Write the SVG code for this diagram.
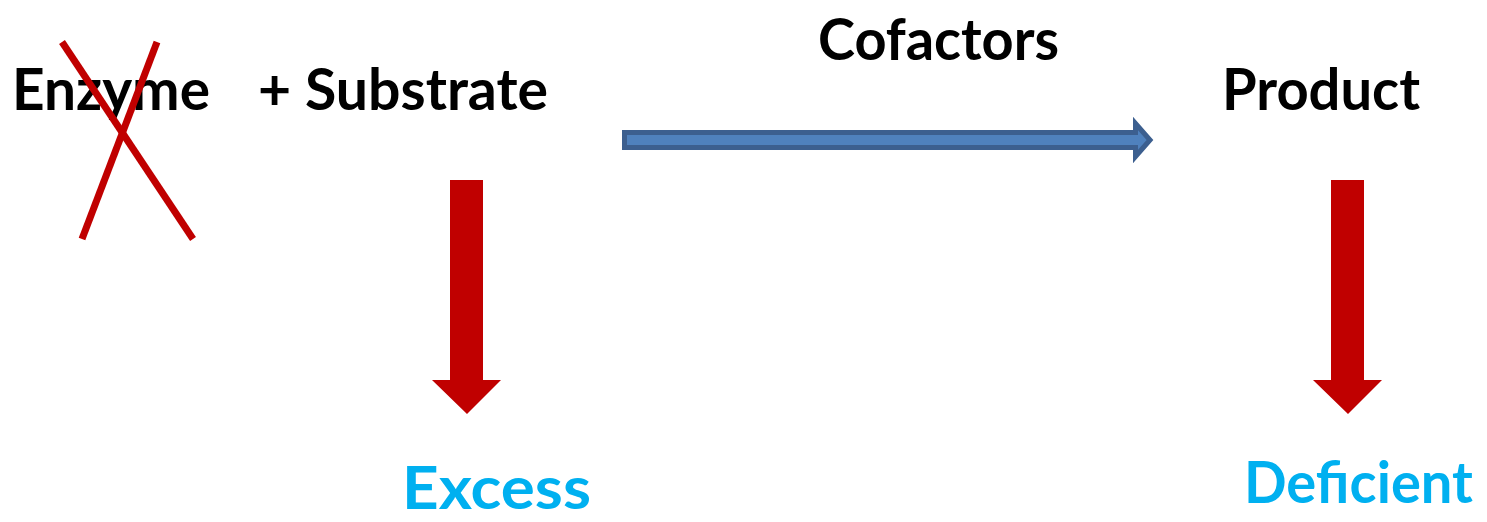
<svg xmlns="http://www.w3.org/2000/svg" width="1487" height="522" viewBox="0 0 1487 522">
<style>
.lbl{font-family:Lato,"Open Sans","Liberation Sans",sans-serif;font-weight:bold;fill:#000}
.blue{fill:#00B0F0}
.cross{stroke:#C00000;stroke-width:7;fill:none}
.red{fill:#C00000}
.flow{fill:#4F81BD;stroke:#3C5F8F;stroke-width:5;stroke-linejoin:miter}
</style>
<rect width="1487" height="522" fill="#fff"/>
<g id="enzyme">
<text class="lbl" x="12" y="110" font-size="57" textLength="198" lengthAdjust="spacingAndGlyphs">Enzyme</text>
<line class="cross" x1="62" y1="42" x2="193" y2="239"/>
<line class="cross" x1="157" y1="42" x2="82" y2="239"/>
</g>
<g id="substrate">
<text class="lbl" x="258" y="110" font-size="57" textLength="290" lengthAdjust="spacingAndGlyphs">+ Substrate</text>
</g>
<g id="cofactors">
<text class="lbl" x="818" y="60" font-size="58" textLength="241" lengthAdjust="spacingAndGlyphs">Cofactors</text>
</g>
<g id="product">
<text class="lbl" x="1222" y="110" font-size="57" textLength="198" lengthAdjust="spacingAndGlyphs">Product</text>
</g>
<g id="excess">
<text class="lbl blue" x="402" y="509" font-size="59" textLength="189" lengthAdjust="spacingAndGlyphs">Excess</text>
</g>
<g id="deficient">
<text class="lbl blue" x="1244" y="503" font-size="57" textLength="229" lengthAdjust="spacingAndGlyphs">Deficient</text>
</g>
<g id="connectors">
<path class="flow" d="M624.5,132.5 H1135.5 V123.5 L1150,140 L1135.5,156.5 V147.5 H624.5 Z"/>
<path class="red" d="M450,180 H483 V380 H501 L467,414 L432,380 H450 Z"/>
<path class="red" d="M1331,180 H1364 V380 H1382 L1348,414 L1313,380 H1331 Z"/>
</g>
</svg>
